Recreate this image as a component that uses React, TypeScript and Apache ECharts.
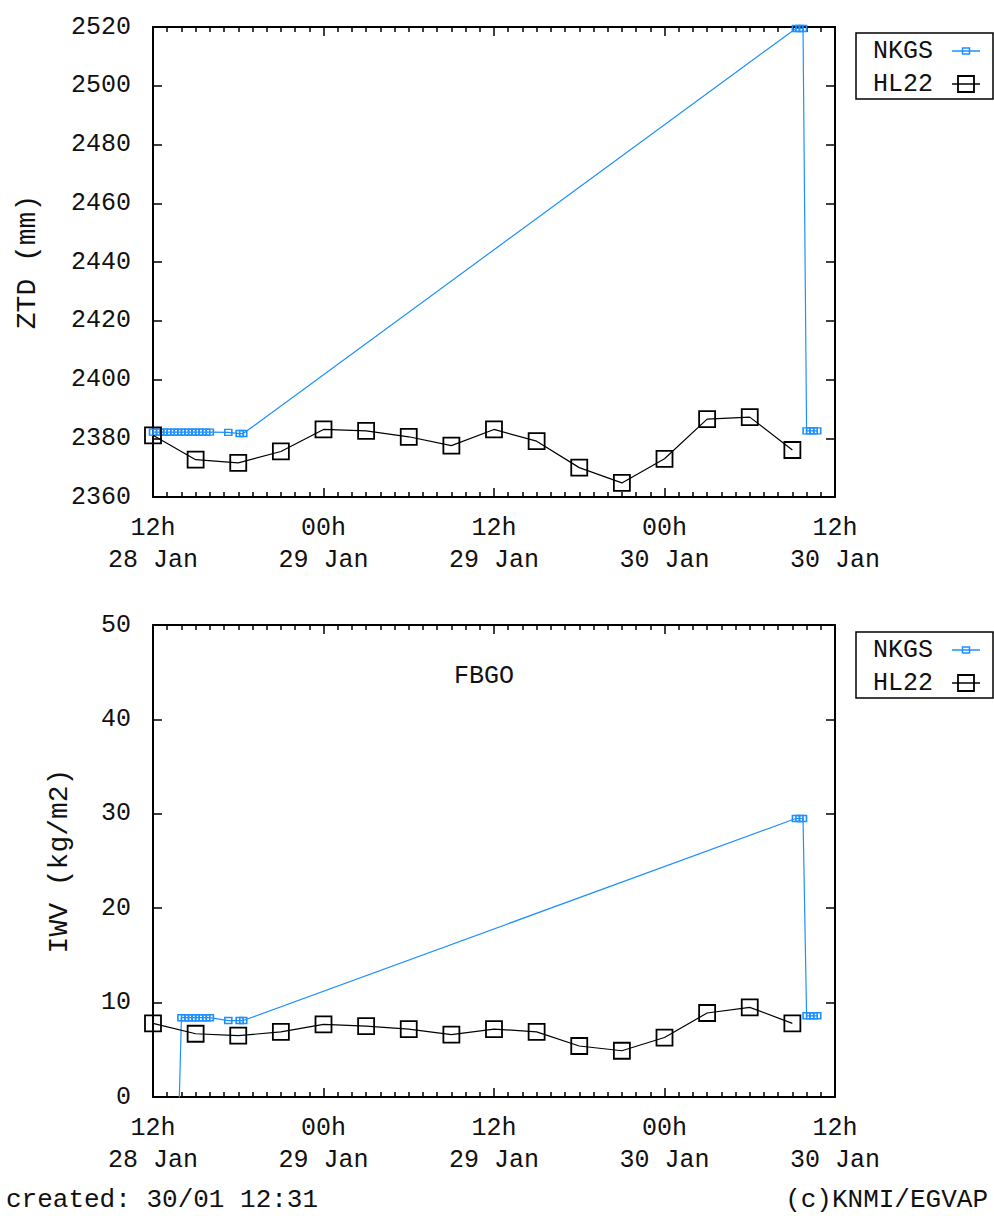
import React, { useEffect, useRef } from "react";
import * as echarts from "echarts";

// Hours since 12h 28 Jan
const xTickLabels = ["12h\n28 Jan", "00h\n29 Jan", "12h\n29 Jan", "00h\n30 Jan", "12h\n30 Jan"];

const hl22Hours = [0, 3, 6, 9, 12, 15, 18, 21, 24, 27, 30, 33, 36, 39, 42, 45];
const hl22Ztd = [2381, 2372.7, 2371.6, 2375.5, 2383, 2382.5, 2380.5, 2377.5, 2383, 2379, 2370, 2364.8, 2373, 2386.5, 2387.2, 2376];
const hl22Iwv = [7.8, 6.7, 6.5, 6.9, 7.7, 7.5, 7.2, 6.6, 7.2, 6.9, 5.4, 4.9, 6.3, 8.9, 9.5, 7.8];

const nkgsHours = [
  0, 0.25, 0.5, 0.75, 1, 1.25, 1.5, 1.75, 2, 2.25, 2.5, 2.75, 3, 3.25, 3.5, 3.75, 4,
  5.3, 6.1, 6.35,
  45.25, 45.5, 45.75,
  46, 46.25, 46.5, 46.75,
];
const nkgsZtd = [
  2382.1, 2382.1, 2382.1, 2382.1, 2382.1, 2382.1, 2382.1, 2382.1, 2382.1, 2382.1, 2382.1, 2382.1, 2382.1, 2382.1, 2382.1, 2382.1, 2382.1,
  2382, 2381.6, 2381.6,
  2519.5, 2519.5, 2519.5,
  2382.5, 2382.5, 2382.5, 2382.5,
];
const nkgsIwv = [
  -6, -6, -6, -6, -6, -6, -6, -6, 8.4, 8.4, 8.4, 8.4, 8.4, 8.4, 8.4, 8.4, 8.4,
  8.1, 8.1, 8.1,
  29.5, 29.5, 29.5,
  8.6, 8.6, 8.6, 8.6,
];

const ztdTicks = { min: 2360, max: 2520, interval: 20 };
const iwvTicks = { min: 0, max: 50, interval: 10 };

const FONT = "Liberation Mono";
const BLUE = "#1e90ff";
const TEXT = "#111";

function pairs(xs: number[], ys: number[]) {
  return xs.map((x, i) => [x, ys[i]]);
}

export default function App() {
  const ref = useRef<HTMLDivElement>(null);
  useEffect(() => {
    document.body.style.margin = "0";
    if (!ref.current) return;
    const chart = echarts.init(ref.current, null, { renderer: "svg" });

    const xAxisBase = (gridIndex: number, top: boolean) => ({
      type: "value",
      gridIndex,
      position: top ? "top" : "bottom",
      min: 0,
      max: 48,
      interval: 12,
      axisLine: { show: true, onZero: false, lineStyle: { color: "#000", width: 2 } },
      axisTick: { show: true, inside: true, length: 9, lineStyle: { color: "#000", width: 1.5 } },
      minorTick: { show: true, splitNumber: 12, length: 5, lineStyle: { color: "#000", width: 1.5 } },
      splitLine: { show: false },
      axisLabel: {
        show: !top,
        margin: 15,
        showMinLabel: true,
        showMaxLabel: true,
        fontFamily: FONT,
        fontSize: 25,
        lineHeight: 32,
        color: TEXT,
        formatter: (v: number) => xTickLabels[Math.round(v / 12)] ?? "",
      },
    });

    const yAxisBase = (gridIndex: number, right: boolean, t: { min: number; max: number; interval: number }) => ({
      type: "value",
      gridIndex,
      position: right ? "right" : "left",
      min: t.min,
      max: t.max,
      interval: t.interval,
      axisLine: { show: true, onZero: false, lineStyle: { color: "#000", width: 2 } },
      axisTick: { show: true, inside: true, length: 9, lineStyle: { color: "#000", width: 1.5 } },
      splitLine: { show: false },
      axisLabel: {
        show: !right,
        margin: 22,
        showMinLabel: true,
        showMaxLabel: true,
        fontFamily: FONT,
        fontSize: 25,
        color: TEXT,
        formatter: (v: number) => String(v),
      },
    });

    const nkgsSeries = (xi: number, yi: number, ys: number[]) => ({
      name: "NKGS",
      type: "line",
      xAxisIndex: xi,
      yAxisIndex: yi,
      data: pairs(nkgsHours, ys),
      symbol: "rect",
      symbolSize: [7, 6],
      showSymbol: true,
      clip: true,
      lineStyle: { color: BLUE, width: 1.2 },
      itemStyle: { color: "rgba(255,255,255,0)", borderColor: BLUE, borderWidth: 1.5 },
      z: 3,
    });
    const hlSeries = (xi: number, yi: number, ys: number[]) => ({
      name: "HL22",
      type: "line",
      xAxisIndex: xi,
      yAxisIndex: yi,
      data: pairs(hl22Hours, ys),
      symbol: "rect",
      symbolSize: 16,
      showSymbol: true,
      clip: true,
      lineStyle: { color: "#000", width: 1.2 },
      itemStyle: { color: "rgba(255,255,255,0)", borderColor: "#000", borderWidth: 1.8 },
      z: 4,
    });

    const legend = (top: number) => ({
      type: "group",
      children: [
        { type: "rect", shape: { x: 856, y: top, width: 137, height: 66 }, style: { fill: "none", stroke: "#000", lineWidth: 1.5 } },
        { type: "text", x: 873, y: top + 18, style: { text: "NKGS", fontFamily: FONT, fontSize: 25, fill: TEXT, verticalAlign: "middle", align: "left" } },
        { type: "text", x: 873, y: top + 51, style: { text: "HL22", fontFamily: FONT, fontSize: 25, fill: TEXT, verticalAlign: "middle", align: "left" } },
        { type: "line", shape: { x1: 952, y1: top + 18, x2: 980, y2: top + 18 }, style: { stroke: BLUE, lineWidth: 1.5 } },
        { type: "rect", shape: { x: 962.5, y: top + 15, width: 7, height: 6 }, style: { fill: "none", stroke: BLUE, lineWidth: 1.5 } },
        { type: "line", shape: { x1: 952, y1: top + 51, x2: 980, y2: top + 51 }, style: { stroke: "#000", lineWidth: 1.5 } },
        { type: "rect", shape: { x: 958, y: top + 43, width: 16, height: 16 }, style: { fill: "none", stroke: "#000", lineWidth: 1.8 } },
      ],
    });

    const option: any = {
      animation: false,
      backgroundColor: "#fff",
      grid: [
        { left: 153, top: 27, width: 682, height: 470 },
        { left: 153, top: 625, width: 682, height: 472 },
      ],
      xAxis: [xAxisBase(0, false), xAxisBase(0, true), xAxisBase(1, false), xAxisBase(1, true)],
      yAxis: [yAxisBase(0, false, ztdTicks), yAxisBase(0, true, ztdTicks), yAxisBase(1, false, iwvTicks), yAxisBase(1, true, iwvTicks)],
      series: [
        nkgsSeries(0, 0, nkgsZtd),
        hlSeries(0, 0, hl22Ztd),
        nkgsSeries(2, 2, nkgsIwv),
        hlSeries(2, 2, hl22Iwv),
      ],
      graphic: [
        { type: "text", x: 27, y: 262, rotation: Math.PI / 2, style: { text: "ZTD (mm)", fontFamily: FONT, fontSize: 28, fill: TEXT, align: "center", verticalAlign: "middle" } },
        { type: "text", x: 59, y: 861, rotation: Math.PI / 2, style: { text: "IWV (kg/m2)", fontFamily: FONT, fontSize: 28, fill: TEXT, align: "center", verticalAlign: "middle" } },
        { type: "text", x: 484, y: 676, style: { text: "FBGO", fontFamily: FONT, fontSize: 25, fill: TEXT, align: "center", verticalAlign: "middle" } },
        legend(33),
        legend(632),
        { type: "text", x: 6, y: 1200, style: { text: "created: 30/01 12:31", fontFamily: FONT, fontSize: 26, fill: TEXT, align: "left", verticalAlign: "middle" } },
        { type: "text", x: 988, y: 1200, style: { text: "(c)KNMI/EGVAP", fontFamily: FONT, fontSize: 26, fill: TEXT, align: "right", verticalAlign: "middle" } },
      ],
    };
    chart.setOption(option);
    return () => chart.dispose();
  }, []);
  return <div ref={ref} style={{ width: 994, height: 1216 }} />;
}
